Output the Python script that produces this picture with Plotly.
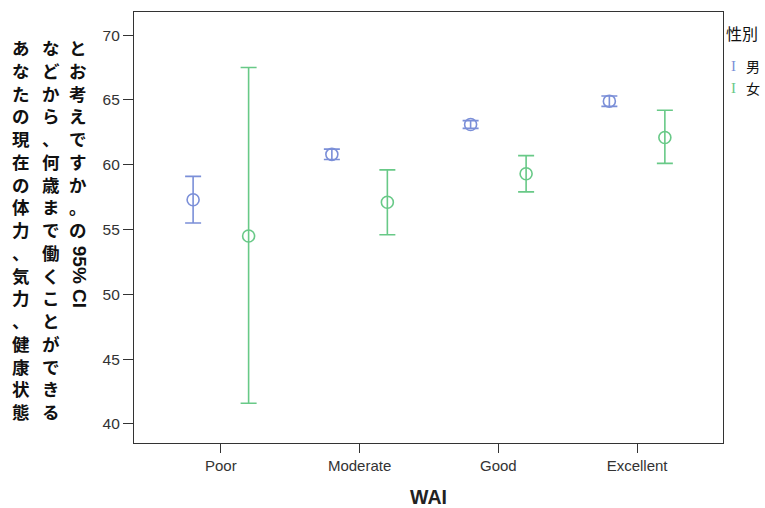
import plotly.graph_objects as go

categories = ["Poor", "Moderate", "Good", "Excellent"]
series_names = ["男", "女"]
male_mean = [57.3, 60.8, 63.1, 64.9]
male_lo = [55.5, 60.4, 62.8, 64.5]
male_hi = [59.1, 61.2, 63.4, 65.3]
female_mean = [54.5, 57.1, 59.3, 62.1]
female_lo = [41.6, 54.6, 57.9, 60.1]
female_hi = [67.5, 59.6, 60.7, 64.2]
y_ticks = [40, 45, 50, 55, 60, 65, 70]

colors = ["#7b8fd8", "#68c987"]
CJK = "Noto Sans CJK JP, sans-serif"
LAT = "Liberation Sans, Arial, sans-serif"

W, H = 765, 508
ML, MR, MT, MB = 134, 42, 12, 65
PW, PH = W - ML - MR, H - MT - MB


def px(x):
    return (x - ML) / PW


def py(y):
    return (H - MB - y) / PH


fig = go.Figure()
for name, mean, lo, hi, col in [
    (series_names[0], male_mean, male_lo, male_hi, colors[0]),
    (series_names[1], female_mean, female_lo, female_hi, colors[1]),
]:
    fig.add_trace(go.Scatter(
        x=categories, y=mean, name=name, mode="markers",
        marker=dict(symbol="circle-open", size=12, color=col, line=dict(width=1.6, color=col)),
        error_y=dict(type="data", symmetric=False,
                     array=[h - m for h, m in zip(hi, mean)],
                     arrayminus=[m - l for m, l in zip(mean, lo)],
                     width=8, thickness=1.6, color=col),
        showlegend=False,
    ))

fig.update_layout(
    width=W, height=H,
    margin=dict(l=ML, r=MR, t=MT, b=MB, autoexpand=False),
    paper_bgcolor="white", plot_bgcolor="white",
    scattermode="group", scattergap=0.2,
    font=dict(family=LAT, color="#333333", size=15),
)
fig.update_xaxes(
    type="category", categoryorder="array", categoryarray=categories,
    range=[-0.626, 3.619], automargin=False,
    showline=True, linecolor="#333333", linewidth=1.2, mirror=True,
    ticks="outside", ticklen=9, tickcolor="#333333", showgrid=False,
    tickfont=dict(size=15, color="#333333"), ticklabelstandoff=0,
    title=dict(text="<b>WAI</b>", font=dict(size=19.5, color="#222222"), standoff=24),
)
fig.update_yaxes(
    range=[38.53, 71.78], tickvals=y_ticks, automargin=False,
    showline=True, linecolor="#333333", linewidth=1.2, mirror=True,
    ticks="outside", ticklen=10, tickcolor="#333333", showgrid=False, zeroline=False,
    tickfont=dict(size=15.5, color="#333333"),
)

# vertical Japanese y-axis title (three columns, read left to right)
col1 = "あなたの現在の体力、気力、健康状態"
col2 = "などから、何歳まで働くことができる"
col3a = "とお考えですか。の"
col3b = "95% CI"
ROW0, FS = 34, 17.5
PITCH = FS * 1.3
for txt, xc in [(col1, 21), (col2, 51), (col3a, 78)]:
    fig.add_annotation(text="<br>".join(txt), xref="paper", yref="paper",
                       x=px(xc), y=py(ROW0), xanchor="center", yanchor="top",
                       showarrow=False, align="center", borderpad=0,
                       font=dict(family=CJK, size=FS, color="#111111", weight="bold"))
fig.add_annotation(text="<b>" + col3b + "</b>", xref="paper", yref="paper",
                   x=px(79), y=py(ROW0 + PITCH * 9 + 38), xanchor="center", yanchor="middle",
                   textangle=90, showarrow=False,
                   font=dict(family=LAT, size=19, color="#111111"))

# legend
fig.add_annotation(text="性別", xref="paper", yref="paper", x=px(724), y=py(33),
                   xanchor="left", yanchor="middle", showarrow=False,
                   font=dict(family=CJK, size=16, color="#111111"))
for i, (nm, col) in enumerate(zip(series_names, colors)):
    yy = py(66 + 22 * i)
    fig.add_annotation(text="I", xref="paper", yref="paper", x=px(733), y=yy,
                       xanchor="center", yanchor="middle", showarrow=False,
                       font=dict(family="Liberation Serif, serif", size=15, color=col))
    fig.add_annotation(text=nm, xref="paper", yref="paper", x=px(744), y=yy,
                       xanchor="left", yanchor="middle", showarrow=False,
                       font=dict(family=CJK, size=14, color="#111111"))

fig.write_html("out.html")
